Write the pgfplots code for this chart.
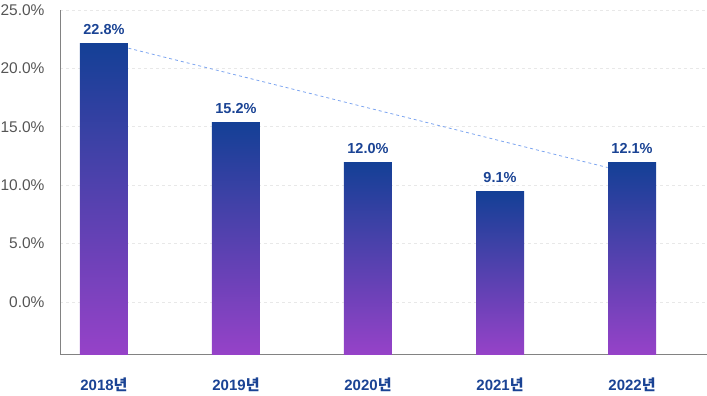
\documentclass[border=0pt]{standalone}
\usepackage{pgfplots}
\pgfplotsset{compat=1.18}
\usepackage{fontspec}
\setmainfont{Liberation Sans}
\newfontfamily\cjk{Noto Sans CJK KR}
\definecolor{bartop}{RGB}{20,64,150}
\definecolor{barbot}{RGB}{150,66,200}
\definecolor{labblue}{RGB}{26,67,148}
\definecolor{tickgray}{RGB}{85,85,85}
\definecolor{axgray}{RGB}{130,130,130}
\definecolor{trend}{RGB}{125,165,240}
\newcommand{\yr}[1]{\textbf{#1}{\cjk\bfseries 년}}
\begin{document}
\begin{tikzpicture}
\useasboundingbox (0,0) rectangle (707pt,396pt);
\begin{axis}[
  at={(60pt,41.5pt)}, anchor=south west,
  scale only axis, width=647pt, height=344.5pt,
  xmin=-0.333, xmax=4.568,
  ymin=0, ymax=29.5,
  y filter/.expression={y+4.5},
  axis x line*=bottom, axis y line*=left,
  axis line style={axgray, line width=0.9pt, -},
  major tick length=0pt,
  xtick={0,1,2,3,4},
  xticklabels={\yr{2018},\yr{2019},\yr{2020},\yr{2021},\yr{2022}},
  x tick label style={font=\fontsize{15}{17}\selectfont, text=labblue, yshift=-20pt},
  ytick={4.5,9.5,14.5,19.5,24.5,29.5},
  yticklabels={0.0\%,5.0\%,10.0\%,15.0\%,20.0\%,25.0\%},
  y tick label style={font=\fontsize{15.5}{17}\selectfont, text=tickgray, xshift=-12pt},
  ymajorgrids,
  grid style={gray!18, dashed, line width=0.6pt},
  clip=false,
  every axis plot/.append style={},
  mybar/.style={ybar, bar width=48pt, bar shift=0pt, draw=none, top color=bartop, bottom color=barbot,
    point meta=explicit,
    nodes near coords={\pgfmathprintnumber[fixed,fixed zerofill,precision=1,assume math mode=true]{\pgfplotspointmeta}\%},
    every node near coord/.append style={font=\bfseries\fontsize{14.5}{17}\selectfont, text=labblue, anchor=south, yshift=6pt}},
]
\addplot[mybar] coordinates {(0,22.09) [22.8]};
\addplot[mybar] coordinates {(1,15.33) [15.2]};
\addplot[mybar] coordinates {(2,11.90) [12.0]};
\addplot[mybar] coordinates {(3,9.42) [9.1]};
\addplot[mybar] coordinates {(4,11.90) [12.1]};
\addplot[trend, line width=0.8pt, dash pattern=on 3pt off 3pt] coordinates {(0.185,21.73) (3.815,11.51)};
\end{axis}
\end{tikzpicture}
\end{document}
